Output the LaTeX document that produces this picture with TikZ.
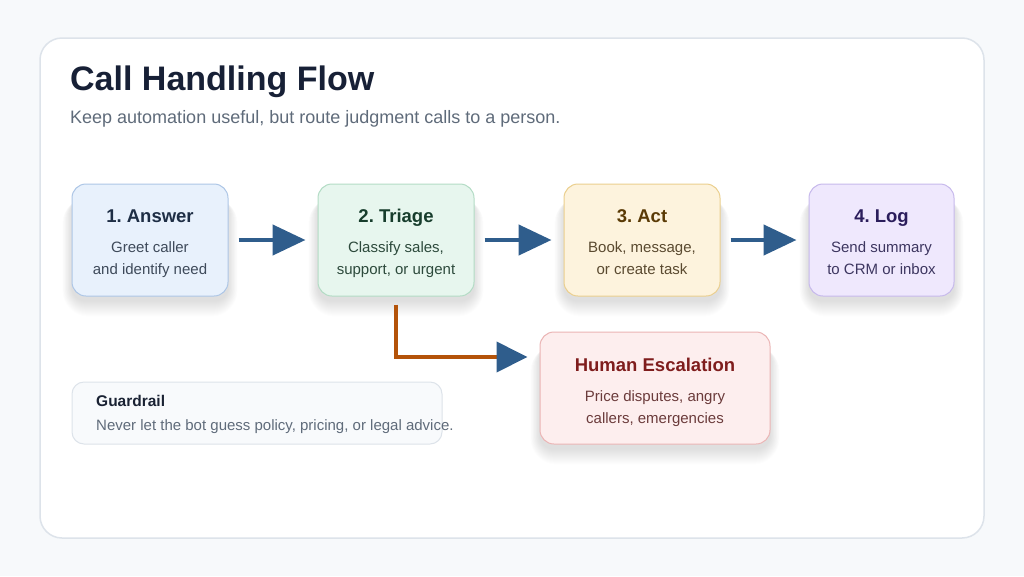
\documentclass[tikz,border=0pt]{standalone}
\usepackage{fontspec}
\setmainfont{Liberation Sans}
\frenchspacing
\usetikzlibrary{arrows.meta}
\pgfdeclarelayer{back}
\pgfdeclarelayer{shade}
\pgfsetlayers{back,shade,main}
\definecolor{pagebg}{HTML}{F7F9FB}
\definecolor{cardline}{HTML}{DDE3EA}
\definecolor{titlecol}{HTML}{172036}
\definecolor{subcol}{HTML}{5F6B7A}
\definecolor{arrowblue}{HTML}{2F5D8C}
\definecolor{escorange}{HTML}{B45309}
\definecolor{shadowcol}{HTML}{1E293B}
\definecolor{fillA}{HTML}{E8F1FC}\definecolor{lineA}{HTML}{ADC6E6}\definecolor{headA}{HTML}{1E2E45}\definecolor{bodyA}{HTML}{3E4A5A}
\definecolor{fillB}{HTML}{E7F6EE}\definecolor{lineB}{HTML}{B3DCC5}\definecolor{headB}{HTML}{173D2C}\definecolor{bodyB}{HTML}{2D4A3C}
\definecolor{fillC}{HTML}{FDF3DD}\definecolor{lineC}{HTML}{EBCF8E}\definecolor{headC}{HTML}{5A3A05}\definecolor{bodyC}{HTML}{5A4A30}
\definecolor{fillD}{HTML}{EFE8FD}\definecolor{lineD}{HTML}{C7B9EC}\definecolor{headD}{HTML}{2B1D5C}\definecolor{bodyD}{HTML}{3D3660}
\definecolor{fillE}{HTML}{FDEEEE}\definecolor{lineE}{HTML}{EBB5B5}\definecolor{headE}{HTML}{7F1D1D}\definecolor{bodyE}{HTML}{6B3B3B}
\definecolor{fillG}{HTML}{F8FAFC}\definecolor{lineG}{HTML}{DDE3EA}\definecolor{headG}{HTML}{1A2233}
\tikzset{
  card/.style={draw=cardline, line width=1.5pt, fill=white, rounded corners=22pt, minimum width=944pt, minimum height=500pt, inner sep=0pt},
  stepbox/.style={line width=1pt, rounded corners=14pt, minimum height=112pt, inner sep=0pt},
  steptitle/.style={anchor=base, inner sep=0pt, font=\fontsize{18.5}{22}\selectfont\bfseries},
  stepbody/.style={anchor=base, inner sep=0pt, font=\fontsize{15}{22}\selectfont},
  flow/.style={draw=arrowblue, line width=4.5pt, -{Triangle[length=33pt,width=30pt]}, shorten <=10pt, shorten >=12pt},
  esc/.style={draw=escorange, line width=4pt, -{Triangle[length=31pt,width=30pt,color=arrowblue]}, shorten <=8pt, shorten >=12pt},
}
\newcommand\boxshadow[1]{%
  \begin{pgfonlayer}{shade}
  \foreach \i in {0,...,15} {
    \pgfmathsetmacro\rc{14+0.8*\i}
    \pgfmathsetmacro\sx{0.6*\i}
    \fill[shadowcol, opacity=0.0075, rounded corners=\rc pt]
      ([xshift=-\sx pt, yshift=-5pt-\i pt]#1.south west) rectangle ([xshift=\sx pt, yshift=-14pt]#1.north east);
  }
  \end{pgfonlayer}}
\begin{document}
\begin{tikzpicture}[x=1pt,y=-1pt]
\useasboundingbox (0,0) rectangle (1024,576);
\begin{pgfonlayer}{back}
\fill[pagebg] (0,0) rectangle (1024,576);
\node[card] (card) at (512,288) {};
\end{pgfonlayer}
\node[anchor=base west, inner sep=0pt, text=titlecol, font=\fontsize{34}{40}\selectfont\bfseries] (title) at (70,90) {Call Handling Flow};
\node[anchor=base west, inner sep=0pt, text=subcol, font=\fontsize{18}{21}\selectfont] (sub) at (70,123) {Keep automation useful, but route judgment calls to a person.};

% steps
\node[stepbox, draw=lineA, fill=fillA, minimum width=156pt] (s1) at (150,240) {};
\node[steptitle, text=headA] (s1t) at (150,222) {1. Answer};
\node[stepbody, text=bodyA] (s1a) at (150,252.5) {Greet caller};
\node[stepbody, text=bodyA] (s1b) at (150,274.5) {and identify need};

\node[stepbox, draw=lineB, fill=fillB, minimum width=156pt] (s2) at (396,240) {};
\node[steptitle, text=headB] (s2t) at (396,222) {2. Triage};
\node[stepbody, text=bodyB] (s2a) at (396,252.5) {Classify sales,};
\node[stepbody, text=bodyB] (s2b) at (396,274.5) {support, or urgent};

\node[stepbox, draw=lineC, fill=fillC, minimum width=156pt] (s3) at (642,240) {};
\node[steptitle, text=headC] (s3t) at (642,222) {3. Act};
\node[stepbody, text=bodyC] (s3a) at (642,252.5) {Book, message,};
\node[stepbody, text=bodyC] (s3b) at (642,274.5) {or create task};

\node[stepbox, draw=lineD, fill=fillD, minimum width=145pt] (s4) at (881.5,240) {};
\node[steptitle, text=headD] (s4t) at (881.5,222) {4. Log};
\node[stepbody, text=bodyD] (s4a) at (881.5,252.5) {Send summary};
\node[stepbody, text=bodyD] (s4b) at (881.5,274.5) {to CRM or inbox};

% escalation
\node[stepbox, draw=lineE, fill=fillE, minimum width=230pt] (esc) at (655,388) {};
\node[steptitle, text=headE] (esct) at (655,371.5) {Human Escalation};
\node[stepbody, text=bodyE] (esca) at (655,401.5) {Price disputes, angry};
\node[stepbody, text=bodyE] (escb) at (655,423.5) {callers, emergencies};

\boxshadow{s1}\boxshadow{s2}\boxshadow{s3}\boxshadow{s4}\boxshadow{esc}

% guardrail
\node[draw=lineG, fill=fillG, line width=1pt, rounded corners=12pt, minimum width=370pt, minimum height=62pt, inner sep=0pt] (g) at (257,413) {};
\node[anchor=base west, inner sep=0pt, text=headG, font=\fontsize{15.5}{18}\selectfont\bfseries] (gt) at (96,406.5) {Guardrail};
\node[anchor=base west, inner sep=0pt, text=subcol, font=\fontsize{15}{18}\selectfont] (gb) at (96,430) {Never let the bot guess policy, pricing, or legal advice.};

% connectors
\draw[flow] (s1.east) -- (s2.west);
\draw[flow] (s2.east) -- (s3.west);
\draw[flow] (s3.east) -- (s4.west);
\coordinate (escin) at ([yshift=31pt]esc.west);
\draw[esc] (s2.south) |- (escin);
\end{tikzpicture}
\end{document}
